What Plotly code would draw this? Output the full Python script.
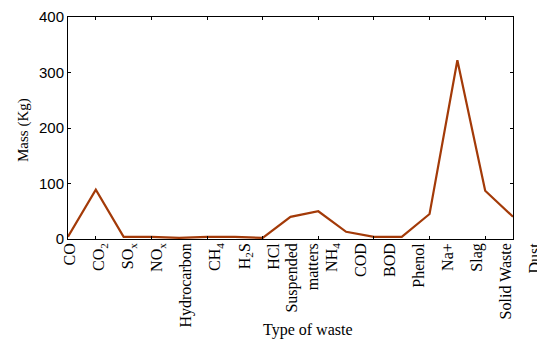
import plotly.graph_objects as go

categories = ["CO", "CO<sub>2</sub>", "SO<sub>x</sub>", "NO<sub>x</sub>", "Hydrocarbon",
              "CH<sub>4</sub>", "H<sub>2</sub>S", "HCl", "Suspended<br>matters",
              "NH<sub>4</sub>", "COD", "BOD", "Phenol", "Na+", "Slag",
              "Solid Waste", "Dust"]
mass_kg = [4, 89, 4, 4, 2, 4, 4, 2, 40, 50, 13, 4, 4, 45, 322, 87, 40]
y_ticks = [0, 100, 200, 300, 400]

idx = list(range(len(categories)))
xtick_idx = idx[1::2]

# the page adds an 8px body margin, so the figure is drawn 8px smaller
OFF = 8
W, H = 545 - OFF, 341 - OFF
L, R, T = 68 - OFF, 5, 17 - OFF
plot_bottom = 239 - OFF
B = H - plot_bottom
plot_w = W - L - R
plot_h = H - T - B
main_right = 513 - OFF
dom_main = (main_right - L) / plot_w

# label axis: category 0 at px 70, last category at px 535 (page coords)
lab_first, lab_last = 70 - OFF, 535 - OFF
slope = (lab_last - lab_first) / (len(categories) - 1)
r0 = (L - lab_first) / slope
r1 = r0 + plot_w / slope

serif = "Liberation Serif, Times New Roman, serif"
sans = "Liberation Sans, Arial, sans-serif"

fig = go.Figure()
fig.add_trace(go.Scatter(x=idx, y=mass_kg, mode="lines",
                         line=dict(color="#A33A08", width=2.2),
                         xaxis="x", yaxis="y", showlegend=False))
fig.add_trace(go.Scatter(x=idx, y=mass_kg, mode="lines", opacity=0,
                         hoverinfo="skip", xaxis="x2", yaxis="y",
                         showlegend=False))

fig.update_layout(
    width=W, height=H,
    margin=dict(l=L, r=R, t=T, b=B, autoexpand=False),
    paper_bgcolor="white", plot_bgcolor="rgba(0,0,0,0)",
    xaxis=dict(domain=[0, dom_main], range=[0, len(categories) - 1],
               tickvals=xtick_idx, showticklabels=False,
               ticks="inside", ticklen=3, tickcolor="black",
               showline=True, linecolor="black", linewidth=1, mirror="ticks",
               showgrid=False, zeroline=False, anchor="y", automargin=False),
    xaxis2=dict(domain=[0, 1], range=[r0, r1], anchor="y",
                tickvals=idx, ticktext=categories, tickangle=-90,
                ticks="", showline=False, showgrid=False, zeroline=False,
                automargin=False,
                tickfont=dict(family=serif, size=16, color="black")),
    yaxis=dict(range=[0, 400], tickvals=y_ticks, anchor="x",
               ticks="inside", ticklen=3, tickcolor="black",
               showline=True, linecolor="black", linewidth=1, mirror="ticks",
               showgrid=False, zeroline=False, automargin=False,
               tickfont=dict(family=sans, size=15, color="black")),
    annotations=[
        dict(text="Type of waste", xref="paper", yref="paper",
             x=(308 - OFF - L) / plot_w, y=(plot_bottom - (330 - OFF)) / plot_h,
             xanchor="center", yanchor="middle", showarrow=False,
             font=dict(family=serif, size=16, color="black")),
        dict(text="Mass (Kg)", xref="paper", yref="paper",
             x=(23 - OFF - L) / plot_w, y=(plot_bottom - (130 - OFF)) / plot_h,
             xanchor="center", yanchor="middle", textangle=-90,
             showarrow=False,
             font=dict(family=serif, size=15, color="black")),
    ],
)

fig.write_html("out.html")
